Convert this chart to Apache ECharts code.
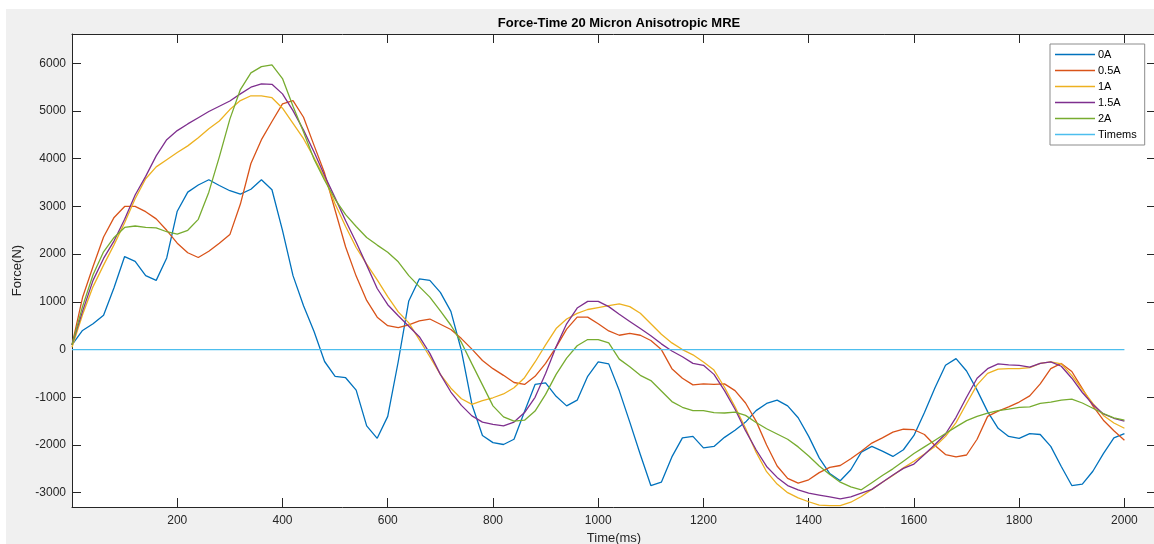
<!DOCTYPE html>
<html>
<head>
<meta charset="utf-8">
<title>Force-Time 20 Micron Anisotropic MRE</title>
<script src="https://cdn.jsdelivr.net/npm/echarts@6/dist/echarts.min.js"></script>
<style>
  html, body { margin: 0; padding: 0; background: #fff; }
  #figBg { position: absolute; left: 6px; top: 9px; width: 1148px; height: 535px; background: #f0f0f0; }
  #chart { position: absolute; left: 0; top: 0; width: 1154px; height: 544px; }
</style>
</head>
<body>
<div id="figBg"></div>
<div id="chart"></div>
<script>
// time axis, one sample every 20 ms (0 .. 2000)
var timeMs = [];
for (var t = 0; t <= 2000; t += 20) timeMs.push(t);

var xTicks = [200, 400, 600, 800, 1000, 1200, 1400, 1600, 1800, 2000];
var yTicks = [-3000, -2000, -1000, 0, 1000, 2000, 3000, 4000, 5000, 6000];

var seriesNames = ['0A', '0.5A', '1A', '1.5A', '2A', 'Timems'];
var seriesColors = ['#0072BD', '#D95319', '#EDB120', '#7E2F8E', '#77AC30', '#4DBEEE'];

// force (N)
var force0A = [
  100, 400, 540, 720, 1300, 1950, 1850, 1550, 1450, 1920,
  2900, 3300, 3450, 3560, 3440, 3330, 3260, 3360, 3560, 3350,
  2500, 1550, 920, 380, -250, -560, -590, -850, -1600, -1860,
  -1400, -250, 1020, 1480, 1450, 1200, 800, -20, -1150, -1800,
  -1950, -1990, -1880, -1300, -730, -700, -980, -1180, -1060, -560,
  -260, -300, -860, -1520, -2200, -2850, -2780, -2250, -1850, -1820,
  -2060, -2030, -1840, -1690, -1520, -1280, -1130, -1060, -1180, -1430,
  -1820, -2270, -2600, -2750, -2520, -2150, -2030, -2130, -2240, -2100,
  -1800, -1320, -800, -330, -190, -450, -850, -1300, -1650, -1820,
  -1860, -1760, -1780, -2030, -2450, -2850, -2820, -2550, -2180, -1850,
  -1760
];
var force05A = [
  100, 1090, 1740, 2360, 2770, 3000, 3000, 2890, 2740, 2500,
  2230, 2030, 1930, 2060, 2230, 2410, 3050, 3900, 4400, 4780,
  5150, 5220, 4870, 4280, 3700, 2920, 2150, 1540, 1030, 680,
  500, 460, 520, 600, 640, 530, 420, 230, 10, -230,
  -400, -540, -690, -730, -560, -290, 50, 430, 680, 680,
  540, 390, 300, 340, 300, 190, 0, -400, -600, -740,
  -720, -730, -720, -860, -1120, -1500, -2000, -2440, -2700, -2800,
  -2730, -2580, -2470, -2430, -2290, -2130, -1960, -1850, -1730, -1670,
  -1680, -1780, -2010, -2200, -2250, -2210, -1880, -1400, -1290, -1200,
  -1100, -970, -720, -400, -290, -460, -820, -1180, -1480, -1700,
  -1900
];
var force1A = [
  50, 730, 1320, 1770, 2200, 2660, 3160, 3580, 3830, 3980,
  4130, 4270, 4440, 4630, 4790, 5030, 5220, 5320, 5320, 5280,
  5060, 4740, 4420, 4020, 3600, 3050, 2580, 2140, 1790, 1460,
  1110, 790, 560, 210, -150, -520, -810, -1030, -1150, -1070,
  -1010, -930, -800, -590, -260, 100, 440, 640, 760, 840,
  880, 920, 960, 900, 760, 540, 320, 140, 0, -110,
  -260, -430, -790, -1200, -1650, -2150, -2560, -2820, -3000, -3110,
  -3190, -3260, -3270, -3270, -3200, -3080, -2930, -2780, -2640, -2480,
  -2340, -2190, -2030, -1820, -1530, -1130, -740, -500, -410, -400,
  -400, -380, -290, -260, -300, -540, -840, -1130, -1380, -1540,
  -1650
];
var force15A = [
  100, 800, 1450, 1910, 2280, 2730, 3240, 3630, 4060, 4400,
  4590, 4730, 4860, 4990, 5100, 5210, 5360, 5500, 5570, 5560,
  5360, 5010, 4600, 4140, 3650, 3180, 2700, 2250, 1770, 1280,
  940, 710, 490, 270, -80, -520, -890, -1170, -1390, -1520,
  -1570, -1600, -1520, -1320, -1000, -500, 60, 540, 870, 1010,
  1010, 900, 740, 590, 440, 290, 120, -30, -150, -290,
  -330, -520, -860, -1250, -1700, -2100, -2450, -2680, -2850, -2940,
  -3010, -3050, -3090, -3130, -3090, -3010, -2930, -2780, -2630, -2490,
  -2400, -2200, -1990, -1770, -1420, -1000, -600, -400, -300, -320,
  -330, -370, -290, -260, -350, -600, -900, -1150, -1350, -1440,
  -1500
];
var force2A = [
  100, 900, 1570, 2050, 2350, 2560, 2590, 2560, 2550, 2470,
  2420, 2500, 2730, 3300, 4040, 4830, 5450, 5800, 5930, 5970,
  5680, 5100, 4560, 3990, 3550, 3150, 2830, 2580, 2350, 2190,
  2040, 1840, 1550, 1320, 1100, 810, 510, 150, -300, -740,
  -1180, -1410, -1500, -1480, -1290, -940, -520, -180, 80, 210,
  210, 140, -200, -360, -540, -650, -870, -1090, -1210, -1280,
  -1280, -1320, -1330, -1310, -1380, -1530, -1660, -1770, -1880, -2040,
  -2230, -2440, -2620, -2780, -2880, -2940, -2790, -2640, -2500, -2340,
  -2180, -2040, -1900, -1760, -1620, -1490, -1400, -1330, -1280, -1250,
  -1210, -1200, -1130, -1100, -1060, -1040, -1120, -1230, -1340, -1430,
  -1480
];
// the "Timems" column plotted as a flat line at 0
var timemsX = [0, 2000];
var timemsY = [0, 0];

var fontFam = '"Liberation Sans", Arial, Helvetica, sans-serif';
var axisCol = '#262626';

function toPairs(xs, ys) {
	var out = [];
	for (var i = 0; i < xs.length; i++) {
		out.push([xs[i], ys[i]]);
	}
	return out;
}

function lineSeries(idx, data) {
	return {
		name: seriesNames[idx],
		type: 'line',
		data: data,
		xAxisIndex: 0,
		yAxisIndex: 0,
		showSymbol: false,
		symbol: 'none',
		lineStyle: { width: 1.3, color: seriesColors[idx] },
		itemStyle: { color: seriesColors[idx] }
	};
}

// plain numbers, no thousands separator (matlab style)
function plainNum(v) {
	return String(v);
}

// box axes: bottom/left carry labels, top/right only ticks
function boxAxis(pos, isX, withLabels) {
	var ax = {
		type: 'value',
		min: isX ? 0 : -3300,
		max: isX ? 2060 : 6615,
		position: pos,
		axisLine: { show: true, onZero: false, lineStyle: { color: axisCol, width: 1 } },
		axisTick: { show: true, inside: true, length: 9, customValues: isX ? xTicks : yTicks, lineStyle: { color: axisCol } },
		axisLabel: { show: false },
		splitLine: { show: false }
	};
	if (withLabels) {
		ax.axisLabel = {
			show: true,
			customValues: isX ? xTicks : yTicks,
			formatter: plainNum,
			margin: isX ? 8 : 6,
			fontSize: 12,
			color: axisCol,
			fontFamily: fontFam
		};
		ax.name = isX ? 'Time(ms)' : 'Force(N)';
		ax.nameLocation = 'middle';
		ax.nameGap = isX ? 25 : 43;
		ax.nameTextStyle = { fontSize: 13, color: axisCol, fontFamily: fontFam };
	}
	return ax;
}

var chart = echarts.init(document.getElementById('chart'), null, { renderer: 'canvas' });

var option = {
	animation: false,
	textStyle: { fontFamily: fontFam },
	title: {
		text: 'Force-Time 20 Micron Anisotropic MRE',
		left: 614,
		textAlign: 'center',
		top: 12,
		textStyle: { fontSize: 13, fontWeight: 'bold', color: '#000', fontFamily: fontFam }
	},
	legend: {
		orient: 'vertical',
		left: 1050,
		top: 44,
		padding: [5, 8, 5, 5],
		itemWidth: 40,
		itemHeight: 1.5,
		itemGap: 5,
		icon: 'rect',
		backgroundColor: '#fff',
		borderColor: '#8c8c8c',
		borderWidth: 1,
		textStyle: { fontSize: 11, color: '#000', fontFamily: fontFam, padding: [0, 0, 0, -2] },
		data: seriesNames
	},
	grid: {
		left: 72,
		top: 34,
		width: 1084,
		height: 473,
		outerBoundsMode: 'none',
		containLabel: false,
		show: true,
		backgroundColor: '#fff',
		borderWidth: 0
	},
	xAxis: [boxAxis('bottom', true, true), boxAxis('top', true, false)],
	yAxis: [boxAxis('left', false, true), boxAxis('right', false, false)],
	series: [
		lineSeries(0, toPairs(timeMs, force0A)),
		lineSeries(1, toPairs(timeMs, force05A)),
		lineSeries(2, toPairs(timeMs, force1A)),
		lineSeries(3, toPairs(timeMs, force15A)),
		lineSeries(4, toPairs(timeMs, force2A)),
		lineSeries(5, toPairs(timemsX, timemsY))
	]
};

chart.setOption(option);
</script>
</body>
</html>
